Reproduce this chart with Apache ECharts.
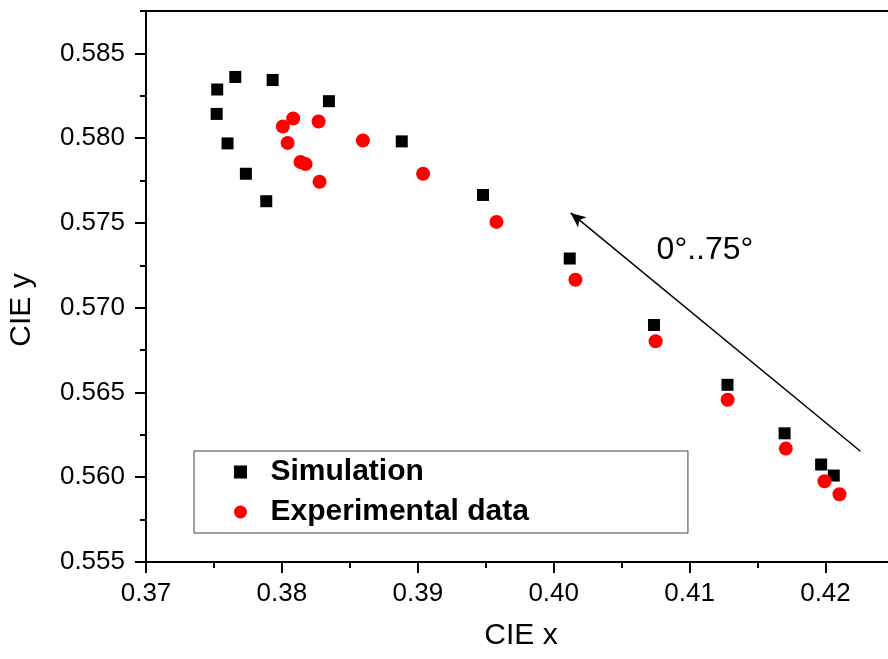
<!DOCTYPE html>
<html>
<head>
<meta charset="utf-8">
<script src="https://cdn.jsdelivr.net/npm/echarts@6/dist/echarts.min.js"></script>
<style>html,body{margin:0;padding:0;background:#fff;}#c{width:888px;height:659px;}</style>
</head>
<body>
<div id="c"></div>
<script>
// ---- data ----
const simX = [0.37524, 0.37657, 0.37932, 0.37520, 0.38346, 0.37600, 0.37735, 0.37885, 0.38882, 0.39480, 0.40118, 0.40738, 0.41279, 0.41699, 0.41968, 0.42061];
const simY = [0.58287, 0.58361, 0.58343, 0.58143, 0.58218, 0.57969, 0.57790, 0.57628, 0.57981, 0.57665, 0.57290, 0.56898, 0.56545, 0.56259, 0.56075, 0.56010];
const expX = [0.38007, 0.38083, 0.38270, 0.38042, 0.38596, 0.38137, 0.38174, 0.38277, 0.39039, 0.39579, 0.40160, 0.40750, 0.41280, 0.41708, 0.41993, 0.42103];
const expY = [0.58069, 0.58116, 0.58098, 0.57972, 0.57986, 0.57859, 0.57847, 0.57743, 0.57790, 0.57506, 0.57165, 0.56802, 0.56457, 0.56169, 0.55976, 0.55900];
const xMajor = [0.37, 0.38, 0.39, 0.40, 0.41, 0.42];
const xMinor = [0.375, 0.385, 0.395, 0.405, 0.415];
const yMajor = [0.555, 0.560, 0.565, 0.570, 0.575, 0.580, 0.585];
const yMinor = [0.5575, 0.5625, 0.5675, 0.5725, 0.5775, 0.5825, 0.5875];
const xRange = [0.37, 0.4246];
const yRange = [0.555, 0.5875];
const arrowStart = [0.42257, 0.56153];
const arrowEnd = [0.40125, 0.57559];
const seriesNames = ['Simulation', 'Experimental data'];
const annotation = '0°..75°';
const xTitle = 'CIE x';
const yTitle = 'CIE y';

const FONT = 'Liberation Sans, Arial, sans-serif';
const pair = (xs, ys) => xs.map((x, i) => [x, ys[i]]);

const chart = echarts.init(document.getElementById('c'), null, { renderer: 'canvas' });

chart.setOption({
  backgroundColor: '#fff',
  animation: false,
  grid: { left: 146, top: 11, right: 0, bottom: 97, containLabel: false },
  xAxis: [
    {
      type: 'value', position: 'bottom', min: xRange[0], max: xRange[1],
      splitLine: { show: false },
      axisLine: { show: true, onZero: false, lineStyle: { color: '#000', width: 2 } },
      axisTick: { show: true, inside: false, length: 11, customValues: xMajor, lineStyle: { color: '#000', width: 2 } },
      axisLabel: { show: true, customValues: xMajor, margin: 19, fontSize: 26, fontFamily: FONT, color: '#000',
        formatter: v => v.toFixed(2) }
    },
    {
      type: 'value', position: 'bottom', offset: 0, min: xRange[0], max: xRange[1],
      splitLine: { show: false },
      axisLine: { show: false },
      axisTick: { show: true, inside: false, length: 6, customValues: xMinor, lineStyle: { color: '#000', width: 2 } },
      axisLabel: { show: false }
    },
    {
      type: 'value', position: 'top', offset: 0, min: xRange[0], max: xRange[1],
      splitLine: { show: false },
      axisLine: { show: true, onZero: false, lineStyle: { color: '#000', width: 2 } },
      axisTick: { show: false },
      axisLabel: { show: false }
    }
  ],
  yAxis: [
    {
      type: 'value', position: 'left', min: yRange[0], max: yRange[1],
      splitLine: { show: false },
      axisLine: { show: true, onZero: false, lineStyle: { color: '#000', width: 2 } },
      axisTick: { show: true, inside: false, length: 11, customValues: yMajor, lineStyle: { color: '#000', width: 2 } },
      axisLabel: { show: true, customValues: yMajor, margin: 21, fontSize: 26, fontFamily: FONT, color: '#000',
        formatter: v => v.toFixed(3) }
    },
    {
      type: 'value', position: 'left', offset: 0, min: yRange[0], max: yRange[1],
      splitLine: { show: false },
      axisLine: { show: false },
      axisTick: { show: true, inside: false, length: 6, customValues: yMinor, lineStyle: { color: '#000', width: 2 } },
      axisLabel: { show: false }
    }
  ],
  legend: {
    orient: 'vertical',
    left: 194, top: 451,
    padding: [6, 159, 6, 40],
    itemGap: 10,
    itemWidth: 50, itemHeight: 13,
    borderColor: '#444', borderWidth: 1,
    textStyle: { fontSize: 30, fontWeight: 'bold', fontFamily: FONT, color: '#000' },
    data: [
      { name: seriesNames[0], icon: 'path://M0,0H10V10H0Z' },
      { name: seriesNames[1], icon: 'circle' }
    ]
  },
  series: [
    {
      name: seriesNames[0], type: 'scatter', xAxisIndex: 0, yAxisIndex: 0,
      symbol: 'rect', symbolSize: 12,
      itemStyle: { color: '#000', opacity: 1 },
      data: pair(simX, simY)
    },
    {
      name: seriesNames[1], type: 'scatter', xAxisIndex: 0, yAxisIndex: 0,
      symbol: 'circle', symbolSize: 14,
      itemStyle: { color: '#ff0000', opacity: 1 },
      data: pair(expX, expY),
      markLine: {
        silent: true, animation: false,
        symbol: ['none', 'arrow'], symbolSize: [10, 15],
        lineStyle: { color: '#000', width: 1.5, type: 'solid' },
        label: { show: false },
        data: [[{ coord: arrowStart }, { coord: arrowEnd }]]
      }
    }
  ],
  graphic: [
    { type: 'text', x: 705, y: 250, style: { text: annotation, font: '32px ' + FONT, fill: '#000', textAlign: 'center', textVerticalAlign: 'middle' } },
    { type: 'text', x: 521, y: 636, style: { text: xTitle, font: '30px ' + FONT, fill: '#000', textAlign: 'center', textVerticalAlign: 'middle' } },
    { type: 'text', x: 22, y: 310, rotation: Math.PI / 2, style: { text: yTitle, font: '30px ' + FONT, fill: '#000', textAlign: 'center', textVerticalAlign: 'middle' } }
  ]
});
</script>
</body>
</html>
